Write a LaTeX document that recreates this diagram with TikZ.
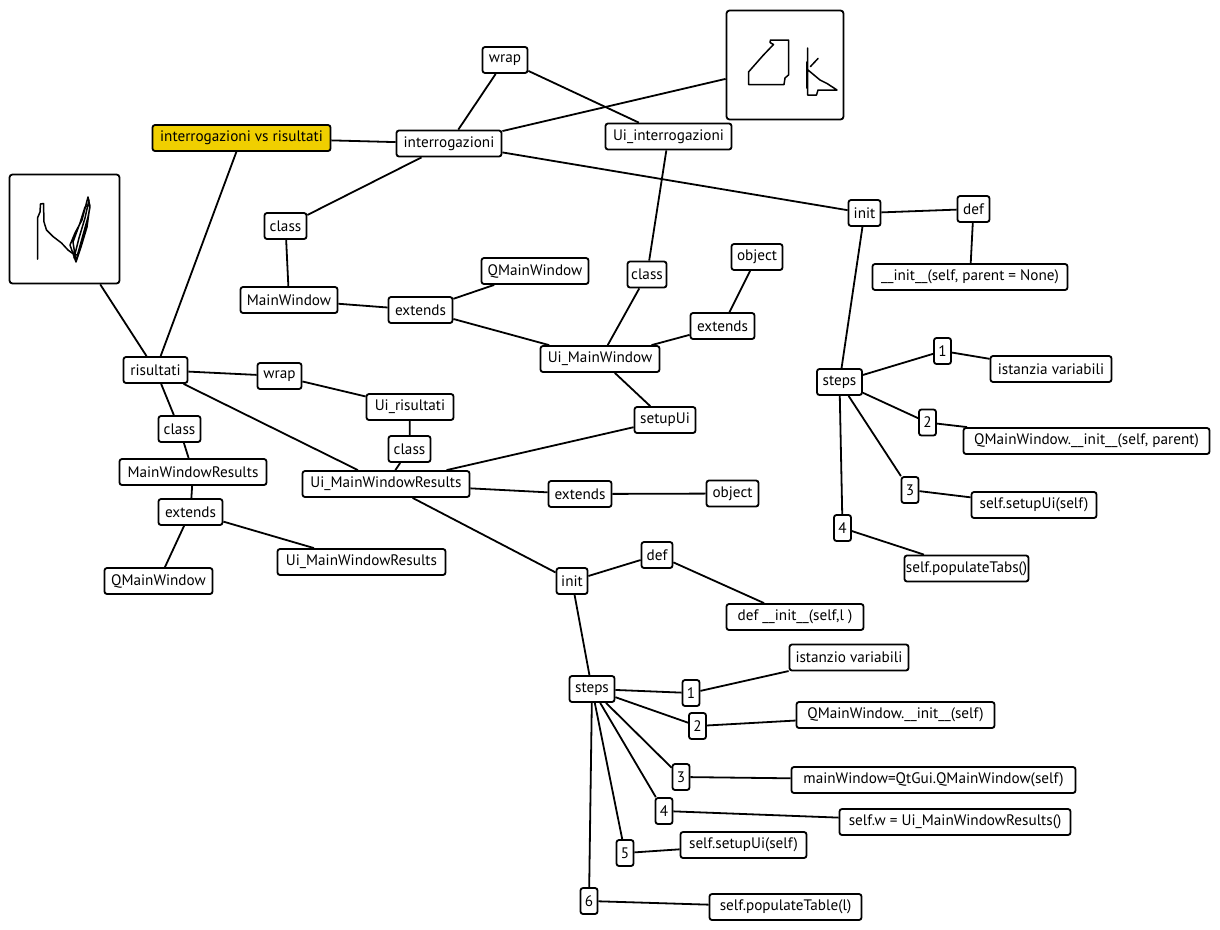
\documentclass[tikz,border=0pt]{standalone}
\usepackage{fontspec}
\setmainfont{PT Sans}
\definecolor{hlyellow}{RGB}{240,207,0}
\begin{document}
\begin{tikzpicture}[x=1pt,y=-1pt,
  box/.style={draw=black, line width=1.8pt, rounded corners=2.5pt, fill=white,
    minimum height=26pt, inner sep=0pt, text=black,
    font=\fontsize{15.2}{18}\selectfont},
  num/.style={box, minimum width=17pt, minimum height=26pt},
  pad/.style={draw=black, line width=1.8pt, rounded corners=3pt, fill=white, inner sep=0pt},
  link/.style={line width=1.8pt, black},
  stroke/.style={line width=1.5pt, black, line join=round, line cap=round}]
\useasboundingbox (0,0) rectangle (1220,929);

% top cluster
\node[box, minimum width=178pt, fill=hlyellow] (ivr) at (241.5,138) {interrogazioni vs risultati};
\node[box, minimum width=105pt] (intr) at (449,143.5) {interrogazioni};
\node[box, minimum width=45pt] (wrapA) at (505,60) {wrap};
\node[box, minimum width=126pt] (uiint) at (668.5,136.5) {Ui\_interrogazioni};
\node[pad, minimum width=117pt, minimum height=109pt] (skA) at (785,65) {};
\node[box, minimum width=32pt] (initA) at (864.5,213) {init};
\node[box, minimum width=32pt] (defA) at (973.5,209) {def};
\node[box, minimum width=195pt] (initsig) at (970,277) {\_\_init\_\_(self, parent = None)};
\node[box, minimum width=42pt] (classA) at (285.5,226) {class};
\node[box, minimum width=97pt] (mainwin) at (289,300) {MainWindow};
\node[box, minimum width=107pt] (qmwA) at (535,271) {QMainWindow};
\node[box, minimum width=64pt] (extA) at (420.5,310) {extends};
\node[box, minimum width=39pt] (classB) at (647,274.5) {class};
\node[box, minimum width=51pt] (objA) at (757,257) {object};
\node[box, minimum width=64pt] (extB) at (722.5,326) {extends};
\node[box, minimum width=119pt] (uimw) at (600,359) {Ui\_MainWindow};
\node[box, minimum width=61pt] (setup) at (665,420) {setupUi};

% left cluster
\node[pad, minimum width=110pt, minimum height=109pt] (skB) at (64.5,229) {};
\node[box, minimum width=64pt] (ris) at (155.5,370) {risultati};
\node[box, minimum width=44pt] (wrapB) at (279.5,376) {wrap};
\node[box, minimum width=87pt] (uiris) at (410,407) {Ui\_risultati};
\node[box, minimum width=42pt] (classC) at (409.5,449) {class};
\node[box, minimum width=42pt] (classD) at (179.5,429) {class};
\node[box, minimum width=147pt] (mwr) at (193,472) {MainWindowResults};
\node[box, minimum width=64pt] (extC) at (190.5,512) {extends};
\node[box, minimum width=108pt] (qmwB) at (158.5,581) {QMainWindow};
\node[box, minimum width=168pt] (umwrB) at (361.5,562) {Ui\_MainWindowResults};
\node[box, minimum width=167pt] (umwrA) at (386,484) {Ui\_MainWindowResults};
\node[box, minimum width=63pt] (extD) at (580,494) {extends};
\node[box, minimum width=52pt] (objB) at (732.5,493.5) {object};

% steps of the first init
\node[box, minimum width=45pt] (stepsA) at (839.5,382) {steps};
\node[num] (nA1) at (942.5,351) {1};
\node[box, minimum width=121pt] (txtA1) at (1051,369) {istanzia variabili};
\node[num] (nA2) at (927.5,422.5) {2};
\node[box, minimum width=246pt] (txtA2) at (1086.5,441) {QMainWindow.\_\_init\_\_(self, parent)};
\node[num] (nA3) at (910,490) {3};
\node[box, minimum width=125pt] (txtA3) at (1034,505) {self.setupUi(self)};
\node[num] (nA4) at (842.5,528) {4};
\node[box, minimum width=124pt] (txtA4) at (966.5,568.5) {self.populateTabs()};

% second init
\node[box, minimum width=31pt] (initB) at (572,581) {init};
\node[box, minimum width=31pt] (defB) at (657,555) {def};
\node[box, minimum width=137pt] (initsigB) at (795,617) {def \_\_init\_\_(self,l )};
\node[box, minimum width=45pt] (stepsB) at (592,689) {steps};
\node[num] (nB1) at (691,693) {1};
\node[box, minimum width=119pt] (txtB1) at (849,657.5) {istanzio variabili};
\node[num] (nB2) at (697.5,726) {2};
\node[box, minimum width=198pt] (txtB2) at (895.5,715) {QMainWindow.\_\_init\_\_(self)};
\node[num] (nB3) at (681,777) {3};
\node[box, minimum width=284pt] (txtB3) at (933.5,780) {mainWindow=QtGui.QMainWindow(self)};
\node[num] (nB4) at (664,811) {4};
\node[box, minimum width=231pt] (txtB4) at (955,822) {self.w = Ui\_MainWindowResults()};
\node[num] (nB5) at (625,853) {5};
\node[box, minimum width=126pt] (txtB5) at (743.5,845) {self.setupUi(self)};
\node[num] (nB6) at (589,901) {6};
\node[box, minimum width=152pt] (txtB6) at (785.5,907) {self.populateTable(l)};

% connectors
\draw[link] (ivr) -- (intr);
\draw[link] (ivr) -- (ris);
\draw[link] (intr) -- (wrapA);
\draw[link] (wrapA) -- (uiint);
\draw[link] (intr) -- (skA);
\draw[link] (intr) -- (initA);
\draw[link] (intr) -- (classA);
\draw[link] (classA) -- (mainwin);
\draw[link] (mainwin) -- (extA);
\draw[link] (extA) -- (qmwA);
\draw[link] (extA) -- (uimw);
\draw[link] (uiint) -- (classB);
\draw[link] (classB) -- (uimw);
\draw[link] (uimw) -- (extB);
\draw[link] (extB) -- (objA);
\draw[link] (uimw) -- (setup);
\draw[link] (setup) -- (umwrA);
\draw[link] (initA) -- (defA);
\draw[link] (defA) -- (initsig);
\draw[link] (initA) -- (stepsA);
\draw[link] (stepsA) -- (nA1);
\draw[link] (stepsA) -- (nA2);
\draw[link] (stepsA) -- (nA3);
\draw[link] (stepsA) -- (nA4);
\draw[link] (nA1) -- (txtA1);
\draw[link] (nA2) -- (txtA2);
\draw[link] (nA3) -- (txtA3);
\draw[link] (nA4) -- (txtA4);
\draw[link] (skB) -- (ris);
\draw[link] (ris) -- (wrapB);
\draw[link] (wrapB) -- (uiris);
\draw[link] (uiris) -- (classC);
\draw[link] (classC) -- (umwrA);
\draw[link] (ris) -- (umwrA);
\draw[link] (ris) -- (classD);
\draw[link] (classD) -- (mwr);
\draw[link] (mwr) -- (extC);
\draw[link] (extC) -- (qmwB);
\draw[link] (extC) -- (umwrB);
\draw[link] (umwrA) -- (extD);
\draw[link] (extD) -- (objB);
\draw[link] (umwrA) -- (initB);
\draw[link] (initB) -- (defB);
\draw[link] (defB) -- (initsigB);
\draw[link] (initB) -- (stepsB);
\draw[link] (stepsB) -- (nB1);
\draw[link] (stepsB) -- (nB2);
\draw[link] (stepsB) -- (nB3);
\draw[link] (stepsB) -- (nB4);
\draw[link] (stepsB) -- (nB5);
\draw[link] (stepsB) -- (nB6);
\draw[link] (nB1) -- (txtB1);
\draw[link] (nB2) -- (txtB2);
\draw[link] (nB3) -- (txtB3);
\draw[link] (nB4) -- (txtB4);
\draw[link] (nB5) -- (txtB5);
\draw[link] (nB6) -- (txtB6);

% hand drawn sketch in the upper right pad
\draw[stroke] (770.5,40) -- (788.5,40) -- (788.5,75) -- (785,78) -- (784,84.5)
  -- (748.5,84.5) -- (748.5,72) -- (752,68) -- (763,55.5) -- (773.5,44.5)
  -- (770,42.5) -- cycle;
\draw[stroke] (807.5,48) -- (807.5,95) -- (816.5,95) -- (818,90) -- (837,90)
  -- (827,83.5) -- (820,80) -- (808,70);
\draw[stroke] (806.5,62) -- (806.5,88);
\draw[stroke] (810.5,66.5) -- (818,58.5);

% hand drawn sketch in the left pad
\draw[stroke] (37.5,259) -- (37.5,218) -- (40,212) -- (40.5,204) -- (43.5,203.5)
  -- (44,222) -- (46.5,230) -- (53,236.5) -- (61.5,243) -- (68,250) -- (72,253) -- (77,255);
\draw[stroke] (76,262) -- (70,245) -- (75,233) -- (82,220) -- (88,197) -- (90,207)
  -- (88,217) -- (83,235) -- (78,253) -- (76,262) -- (81,247) -- (87,227) -- (90,205)
  -- (85,207) -- (80,223) -- (73,242) -- (76,262);
\draw[stroke] (74,258) -- (79,238) -- (85,218) -- (89,200);
\end{tikzpicture}
\end{document}
